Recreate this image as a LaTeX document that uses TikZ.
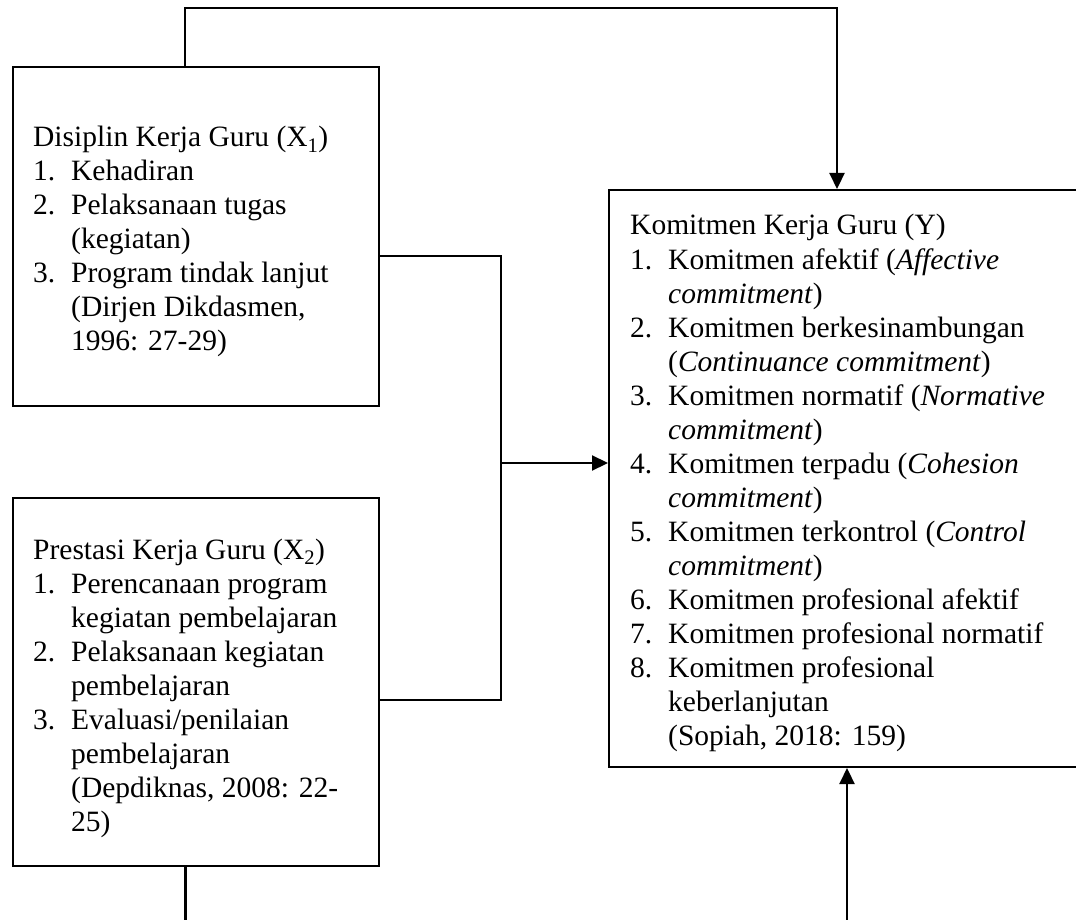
\documentclass[tikz,border=0pt]{standalone}
\usepackage{fontspec}
\setmainfont{Liberation Serif}
\usepackage{array}
\usetikzlibrary{arrows.meta}

\tikzset{
    varbox/.style={draw, line width=2pt, rectangle, inner sep=0pt, anchor=north west},
    varlist/.style={anchor=base west, inner sep=0pt, font=\fontsize{29.5}{34}\selectfont},
    link/.style={line width=2.2pt},
    linkarrow/.style={line width=2.2pt, -{Triangle[length=16pt, width=15pt]}}
}

\begin{document}
\begin{tikzpicture}[x=1pt, y=-1pt]
    % Page frame
    \useasboundingbox (0,0) rectangle (1076,920);
    \clip (0,0) rectangle (1076,920);

    % Boxes of the variables
    \node[varbox, minimum width=366pt, minimum height=339pt] (x1) at (11.5,66) {};
    \node[varbox, minimum width=366pt, minimum height=368pt] (x2) at (11.5,497) {};
    \node[varbox, minimum width=482pt, minimum height=577pt] (y) at (608,189) {};

    % Texts of the boxes
    \node[varlist] (x1txt) at (33,147) {\begin{tabular}[t]{@{}p{38pt}@{}l@{}}
        \multicolumn{2}{@{}l@{}}{Disiplin Kerja Guru (X\textsubscript{1})}\\
        1. & Kehadiran\\
        2. & Pelaksanaan tugas\\
           & (kegiatan)\\
        3. & Program tindak lanjut\\
           & (Dirjen Dikdasmen,\\
           & 1996: 27-29)
    \end{tabular}};
    \node[varlist] (x2txt) at (33,559) {\begin{tabular}[t]{@{}p{38pt}@{}l@{}}
        \multicolumn{2}{@{}l@{}}{Prestasi Kerja Guru (X\textsubscript{2})}\\
        1. & Perencanaan program\\
           & kegiatan pembelajaran\\
        2. & Pelaksanaan kegiatan\\
           & pembelajaran\\
        3. & Evaluasi/penilaian\\
           & pembelajaran\\
           & (Depdiknas, 2008: 22-\\
           & 25)
    \end{tabular}};
    \node[varlist] (ytxt) at (630,235) {\begin{tabular}[t]{@{}p{38pt}@{}l@{}}
        \multicolumn{2}{@{}l@{}}{Komitmen Kerja Guru (Y)}\\
        1. & Komitmen afektif (\textit{Affective}\\
           & \textit{commitment})\\
        2. & Komitmen berkesinambungan\\
           & (\textit{Continuance commitment})\\
        3. & Komitmen normatif (\textit{Normative}\\
           & \textit{commitment})\\
        4. & Komitmen terpadu (\textit{Cohesion}\\
           & \textit{commitment})\\
        5. & Komitmen terkontrol (\textit{Control}\\
           & \textit{commitment})\\
        6. & Komitmen profesional afektif\\
        7. & Komitmen profesional normatif\\
        8. & Komitmen profesional\\
           & keberlanjutan\\
           & (Sopiah, 2018: 159)
    \end{tabular}};

    % Points of the connectors
    \coordinate (topbar) at (185,8);
    \coordinate (ytop) at (837,0);
    \coordinate (x1out) at (0,256);
    \coordinate (x2out) at (0,700);
    \coordinate (join) at (501,463);
    \coordinate (botleft) at (185.5,930);
    \coordinate (botright) at (847,930);

    % Connectors
    \draw[linkarrow] (x1.north -| topbar) -- (topbar) -| (y.north -| ytop);
    \draw[link] (x1.east |- x1out) -| (join);
    \draw[link] (x2.east |- x2out) -| (join);
    \draw[linkarrow] (join) -- (y.west |- join);
    \draw[link] (x2.south -| botleft) -- (botleft);
    \draw[linkarrow] (botright) -- (y.south -| botright);
\end{tikzpicture}
\end{document}
